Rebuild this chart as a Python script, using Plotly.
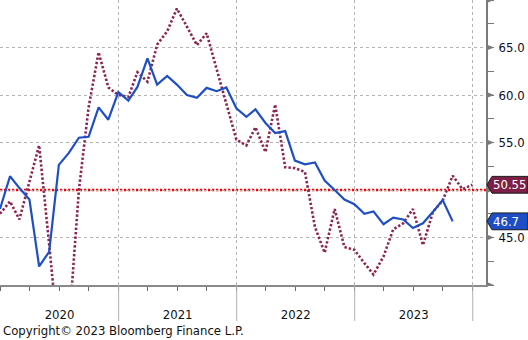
import pandas as pd
import plotly.graph_objects as go

# Monthly readings, month-end dates starting Dec 2019
pmi_values = [48.0, 51.45, 50.2, 49.0, 41.95, 43.5, 52.65, 53.9, 55.5, 55.6,
              58.7, 57.4, 60.3, 59.4, 60.85, 63.85, 61.1, 62.0, 61.1, 60.0,
              59.7, 60.75, 60.4, 60.8, 58.6, 57.7, 58.5, 57.05, 56.0, 56.2,
              53.1, 52.7, 52.9, 51.0, 50.0, 49.0, 48.5, 47.5, 47.75, 46.4,
              47.1, 46.9, 46.0, 46.5, 47.7, 48.95, 46.7]

composite_values = [47.5, 48.8, 46.9, 50.8, 54.7, 44.3, 33.7, 35.5, 50.0, 58.7,
                    64.5, 60.8, 60.0, 59.8, 62.4, 61.4, 65.3, 66.7, 69.1, 67.2,
                    65.25, 66.5, 62.8, 59.0, 55.3, 54.7, 56.6, 54.0, 59.0, 52.4,
                    52.3, 51.9, 46.1, 43.4, 48.0, 44.0, 43.7, 42.3, 41.1, 43.0,
                    45.85, 46.5, 48.0, 44.2, 47.7, 48.9, 51.5, 50.1, 50.55]

threshold = 50.0
y_ticks = [40, 45, 50, 55, 60, 65, 70]
y_labelled = [45, 55, 60, 65]   # 50.0 sits under the value tag
year_starts = ["2020-01-01", "2021-01-01", "2022-01-01", "2023-01-01", "2024-01-01"]


def month_ends(n):
    starts = pd.date_range("2020-01-01", periods=n, freq="MS")
    return starts - pd.Timedelta(days=1)


pmi_dates = month_ends(len(pmi_values))
composite_dates = month_ends(len(composite_values))

FONT = "DejaVu Sans Condensed, DejaVu Sans, sans-serif"
BLUE = "#1f4fc4"
MAROON = "#8a2652"
TAG_MAROON = "#7d1f47"
TAG_BLUE = "#1e4ec6"
AXIS_GREY = "#7a7a7a"

W, H = 528, 340
M = dict(l=0, r=42, t=0, b=55)
plot_w = W - M["l"] - M["r"]
plot_h = H - M["t"] - M["b"]
y_lo, y_hi = 40, 70
px_per_unit = plot_h / (y_hi - y_lo)

fig = go.Figure()

fig.add_trace(go.Scatter(
    x=composite_dates, y=composite_values, mode="lines",
    line=dict(color=MAROON, width=2.6, dash="2.4px,2px"),
    hoverinfo="skip", showlegend=False,
))
fig.add_trace(go.Scatter(
    x=pmi_dates, y=pmi_values, mode="lines",
    line=dict(color=BLUE, width=2.2),
    hoverinfo="skip", showlegend=False,
))

shapes = []
# 50 threshold
shapes.append(dict(type="line", xref="paper", yref="y", x0=0, x1=1,
                   y0=threshold, y1=threshold, layer="below",
                   line=dict(color="#ff0000", width=2.4, dash="2.2px,1.8px")))

# year separators running below the axis
for d in year_starts[1:]:
    shapes.append(dict(type="line", xref="x", yref="paper", x0=d, x1=d,
                       y0=0, y1=-36 / plot_h, line=dict(color="#b0b0b0", width=1)))

# arrow-head tick markers on the right axis
dx = 1 / plot_w
for v in y_ticks:
    hh = 3.2 / px_per_unit
    shapes.append(dict(type="path", xref="paper", yref="y", layer="above",
                       path=f"M 1,{v + hh} L {1 + 8 * dx},{v} L 1,{v - hh} Z",
                       fillcolor=AXIS_GREY, line=dict(width=0)))

# value tags for the latest readings
annotations = []
for val, col in [(composite_values[-1], TAG_MAROON), (pmi_values[-1], TAG_BLUE)]:
    hh = 8.4 / px_per_unit
    x_tip, x_box, x_end = 1 + 1 * dx, 1 + 6 * dx, 1 + 42 * dx
    shapes.append(dict(
        type="path", xref="paper", yref="y", layer="above",
        path=(f"M {x_tip},{val} L {x_box},{val + hh} L {x_end},{val + hh} "
              f"L {x_end},{val - hh} L {x_box},{val - hh} Z"),
        fillcolor=col, line=dict(color="#1a1a1a", width=1)))
    annotations.append(dict(
        xref="paper", yref="y", x=1, y=val, xanchor="left", yanchor="middle",
        xshift=5, text=f"{val:g}", showarrow=False,
        font=dict(family=FONT, size=13, color="white")))

annotations.append(dict(
    xref="paper", yref="paper", x=0, y=0, xanchor="left", yanchor="middle",
    xshift=1, yshift=-45, text="Copyright© 2023 Bloomberg Finance L.P.",
    showarrow=False, font=dict(family=FONT, size=13, color="#111111")))

fig.update_layout(
    width=W, height=H, margin=M,
    paper_bgcolor="white", plot_bgcolor="white",
    font=dict(family=FONT, size=13, color="#111111"),
    shapes=shapes, annotations=annotations, showlegend=False,
    xaxis=dict(
        type="date", range=["2019-12-31", "2024-02-11"],
        dtick="M12", tick0="2020-01-01", tickformat="%Y",
        ticklabelmode="period", ticklabelstandoff=12,
        showgrid=True, gridcolor="#b4b4b4", griddash="3px,3px", gridwidth=1,
        showline=True, linecolor="#8a8a8a", linewidth=2,
        ticks="outside", ticklen=4, tickcolor="#666666", tickwidth=1,
        minor=dict(dtick="M3", tick0="2020-01-01", ticks="outside", ticklen=4,
                   tickcolor="#666666", showgrid=False),
        tickfont=dict(family=FONT, size=13, color="#111111"),
        fixedrange=True, zeroline=False,
    ),
    yaxis=dict(
        side="right", range=[y_lo, y_hi],
        tickvals=y_ticks,
        ticktext=[f"{v:.1f}" if v in y_labelled else "" for v in y_ticks],
        showgrid=True, gridcolor="#b4b4b4", griddash="3px,3px", gridwidth=1,
        showline=True, linecolor=AXIS_GREY, linewidth=2,
        ticks="outside", ticklen=8, tickcolor="rgba(0,0,0,0)",
        minor=dict(dtick=2.5, tick0=40, ticks="outside", ticklen=6,
                   tickcolor=AXIS_GREY, tickwidth=1, showgrid=False),
        tickfont=dict(family=FONT, size=13, color="#0d0d26"),
        zeroline=False, fixedrange=True,
    ),
)

fig.write_html("out.html")
